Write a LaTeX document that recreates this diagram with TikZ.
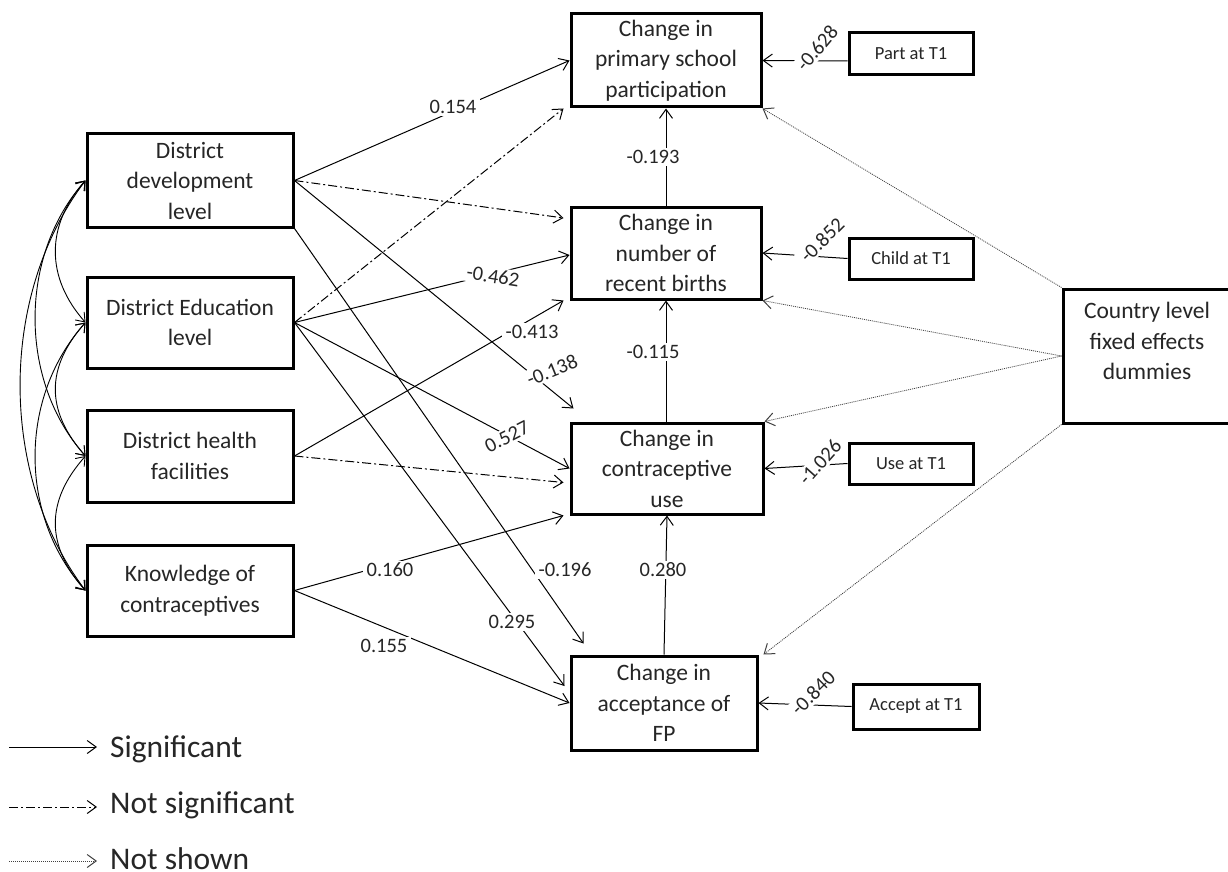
\documentclass[tikz,border=0pt]{standalone}
\usepackage{fontspec}
\setmainfont{Carlito}
\usetikzlibrary{arrows.meta}
\definecolor{txt}{HTML}{262626}
\begin{document}
\begin{tikzpicture}[x=1pt,y=-1pt,
  box/.style={draw, line width=3pt, fill=white, align=center, inner sep=0pt, text=txt, font=\fontsize{23.5}{30.5}\selectfont},
  sbox/.style={draw, line width=3pt, fill=white, inner sep=0pt, text=txt, font=\fontsize{18.5}{22}\selectfont, minimum width=124pt, minimum height=42pt},
  tip/.style={-{Straight Barb[length=9pt,width=13pt]}},
  sig/.style={line width=1pt, tip},
  nsig/.style={line width=1pt, tip, dash pattern=on 9pt off 3pt on 2pt off 3pt},
  nshown/.style={line width=0.8pt, draw=black!75, dash pattern=on 1pt off 1pt, -{Straight Barb[length=9pt,width=13pt,line width=1pt]}},
  corr/.style={line width=0.9pt, {Straight Barb[length=8pt,width=12pt]}-{Straight Barb[length=8pt,width=12pt]}},
  lab/.style={fill=white, inner xsep=4pt, inner ysep=2pt, text=txt, font=\fontsize{20.5}{24}\selectfont},
  leg/.style={anchor=base west, inner sep=0pt, text=txt, font=\fontsize{31.5}{36}\selectfont}
]
\fill[white] (0,0) rectangle (1228,872);
\useasboundingbox (0,0) rectangle (1228,872);

% left boxes
\node[box, minimum width=206pt, minimum height=93pt] (DD) at (190,180.5) {District\\development\\level};
\node[box, minimum width=206pt, minimum height=91pt] (DE) at (190,322.5) {District Education\\level};
\node[box, minimum width=206pt, minimum height=92pt] (DH) at (190,456) {District health\\facilities};
\node[box, minimum width=206pt, minimum height=91pt] (KC) at (190,590.5) {Knowledge of\\contraceptives};

% middle boxes
\node[box, minimum width=190pt, minimum height=93pt] (PSP) at (666,60.5) {Change in\\primary school\\participation};
\node[box, minimum width=190pt, minimum height=92pt] (NRB) at (666,253) {Change in\\number of\\recent births};
\node[box, minimum width=192pt, minimum height=91pt] (CU) at (667,468.5) {Change in\\contraceptive\\use};
\node[box, minimum width=186pt, minimum height=94pt] (AFP) at (664,703) {Change in\\acceptance of\\FP};

% small boxes
\node[sbox] (PT) at (911,54) {Part at T1};
\node[sbox, minimum height=41pt] (CT) at (911,258.5) {Child at T1};
\node[sbox, minimum height=41pt] (UT) at (911,463.5) {Use at T1};
\node[sbox, minimum width=126pt, minimum height=45pt] (AT) at (916,706.5) {Accept at T1};

% country box
\node[draw, line width=3pt, fill=white, minimum width=168pt, minimum height=134pt, inner sep=0pt] (CL) at (1147,356) {};
\node[align=center, text=txt, font=\fontsize{23.5}{30.5}\selectfont] (CLT) at (1147,341) {Country level\\fixed effects\\dummies};

% correlations
\draw[corr] (DD.west) .. controls +(-40,45) and +(-40,-45) .. (DE.west);
\draw[corr] (DE.west) .. controls +(-40,45) and +(-40,-45) .. (DH.west);
\draw[corr] (DH.west) .. controls +(-40,45) and +(-40,-45) .. (KC.west);
\draw[corr] (DD.west) .. controls +(-67,75) and +(-67,-75) .. (DH.west);
\draw[corr] (DE.west) .. controls +(-67,75) and +(-67,-75) .. (KC.west);
\draw[corr] (DD.west) .. controls +(-87,115) and +(-87,-115) .. (KC.west);

% paths from district variables
\draw[sig] (DD.east) -- (PSP.west);
\draw[nsig] (DD.east) -- ([xshift=-6pt,yshift=35pt]NRB.west);
\draw[sig] (DD.east) -- ([xshift=4pt,yshift=13pt]CU.north west);
\draw[sig] (DD.south east) -- ([xshift=14pt,yshift=11pt]AFP.north west);
\draw[nsig] (DE.east) -- ([xshift=-6pt]PSP.south west);
\draw[sig] (DE.east) -- ([yshift=-2pt]NRB.west);
\draw[sig] (DE.east) -- (CU.west);
\draw[sig] (DE.east) -- ([xshift=-5pt,yshift=17pt]AFP.west);
\draw[sig] (DH.east) -- ([xshift=-6pt]NRB.south west);
\draw[nsig] (DH.east) -- ([xshift=-6pt,yshift=-14pt]CU.west);
\draw[sig] (KC.east) -- ([xshift=-6pt]CU.south west);
\draw[sig] (KC.east) -- (AFP.west);

% vertical paths
\draw[sig] (NRB.north) -- (PSP.south);
\draw[sig] (CU.north -| NRB.south) -- (NRB.south);
\draw[sig] (AFP.north) -- (CU.south);

% baseline values
\draw[sig] ([yshift=-7pt]PT.west) -- (PSP.east);
\draw[sig] (CT.west) -- (NRB.east);
\draw[sig] (UT.west) -- (CU.east);
\draw[sig] (AT.west) -- (AFP.east);

% country fixed effects
\draw[nshown] (CL.north west) -- (PSP.south east);
\draw[nshown] (CL.west) -- (NRB.south east);
\draw[nshown] (CL.west) -- (CU.north east);
\draw[nshown] (CL.south west) -- ([xshift=5pt]AFP.north east);

% labels
\node[lab] (l1) at (453,107) {0.154};
\node[lab] (l2) at (653,157) {-0.193};
\node[lab, rotate=-9] (l3) at (493,276) {-0.462};
\node[lab] (l4) at (532,332) {-0.413};
\node[lab, rotate=22] (l5) at (552,370) {-0.138};
\node[lab] (l6) at (653,352) {-0.115};
\node[lab, rotate=27] (l7) at (507,437) {0.527};
\node[lab] (l8) at (390,570) {0.160};
\node[lab] (l9) at (565,570) {-0.196};
\node[lab] (l10) at (663,570) {0.280};
\node[lab] (l11) at (512,622) {0.295};
\node[lab] (l12) at (384,646) {0.155};
\node[lab, rotate=50] (l13) at (817,48) {-0.628};
\node[lab, rotate=45] (l14) at (822,240) {-0.852};
\node[lab, rotate=48] (l15) at (820,462) {-1.026};
\node[lab, rotate=45] (l16) at (813,693) {-0.840};

% legend
\coordinate (g1a) at (9,747); \coordinate (g1b) at (97,747);
\coordinate (g2a) at (9,807); \coordinate (g2b) at (97,807);
\coordinate (g3a) at (9,861); \coordinate (g3b) at (97,861);
\draw[sig] (g1a) -- (g1b);
\draw[nsig] (g2a) -- (g2b);
\draw[nshown] (g3a) -- (g3b);
\node[leg] (t1) at (110,757) {Significant};
\node[leg] (t2) at (110,813) {Not significant};
\node[leg] (t3) at (110,869) {Not shown};
\end{tikzpicture}
\end{document}
